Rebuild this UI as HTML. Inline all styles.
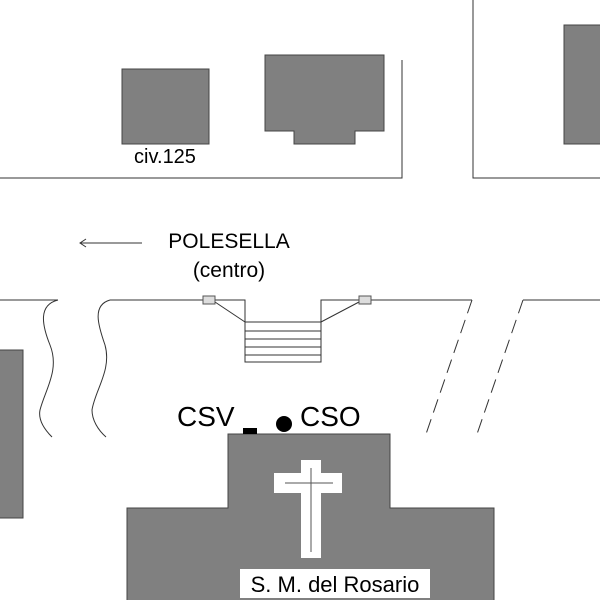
<!DOCTYPE html>
<html><head><style>body{margin:0;background:#fff}svg{display:block}</style></head><body>
<svg width="600" height="600" viewBox="0 0 600 600" xmlns="http://www.w3.org/2000/svg" font-family="Liberation Sans, Arial, sans-serif">
<g stroke="#333" stroke-width="1" fill="none">
<polyline points="0,178 402,178 402,60"/>
<polyline points="473,0 473,178 600,178"/>
<polyline points="0,300 58,300"/>
<path d="M58,300 C38,305 42,325 50,345 C60,370 45,390 40,410 C38,420 45,430 52,437"/>
<path d="M110,300 C92,305 98,325 105,345 C112,370 95,390 92,410 C92,420 98,430 106,437"/>
<polyline points="110,300 203,300"/>
<polyline points="215,300 245,300 245,322"/>
<line x1="215" y1="302" x2="245" y2="322"/>
<polyline points="371,300 321,300 321,322"/>
<line x1="359" y1="302" x2="321" y2="322"/>
<line x1="371" y1="300" x2="472" y2="300"/>
<line x1="523" y1="300" x2="600" y2="300"/>
<line x1="472" y1="300" x2="425" y2="437" stroke-dasharray="14,7"/>
<line x1="523" y1="300" x2="476" y2="437" stroke-dasharray="14,7"/>
<rect x="245" y="322" width="76" height="40"/>
<line x1="245" y1="331" x2="321" y2="331"/><line x1="245" y1="339" x2="321" y2="339"/>
<line x1="245" y1="347" x2="321" y2="347"/><line x1="245" y1="355" x2="321" y2="355"/>
<line x1="80" y1="243" x2="142" y2="243"/>
<polyline points="86,239 80,243 86,247"/>
</g>
<rect x="203" y="296" width="12" height="8" fill="#ddd" stroke="#555"/>
<rect x="359" y="296" width="12" height="8" fill="#ddd" stroke="#555"/>
<g fill="#808080" stroke="#444">
<rect x="122" y="69" width="87" height="75"/>
<polygon points="265,55 384,55 384,131 355,131 355,144 294,144 294,131 265,131"/>
<rect x="564" y="25" width="40" height="119"/>
<rect x="-2" y="350" width="25" height="168"/>
<polygon points="228,434 390,434 390,508 494,508 494,602 127,602 127,508 228,508"/>
</g>
<rect x="301" y="460" width="20" height="98" fill="#fff"/>
<rect x="274" y="473" width="68" height="20" fill="#fff"/>
<line x1="311" y1="468" x2="311" y2="552" stroke="#555"/>
<line x1="285" y1="483" x2="333" y2="483" stroke="#555"/>
<rect x="240" y="569" width="190" height="29" fill="#fff"/>
<text x="335" y="592" font-size="22" text-anchor="middle" fill="#000">S. M. del Rosario</text>
<rect x="243" y="428" width="14" height="6" fill="#000"/>
<circle cx="284" cy="424" r="8" fill="#000"/>
<text x="177" y="426" font-size="28" fill="#000">CSV</text>
<text x="300" y="426" font-size="28" fill="#000">CSO</text>
<text x="165" y="163" font-size="20" text-anchor="middle" fill="#000">civ.125</text>
<text x="229" y="248" font-size="21" text-anchor="middle" fill="#000">POLESELLA</text>
<text x="229" y="277" font-size="21" text-anchor="middle" fill="#000">(centro)</text>
</svg>
</body></html>
